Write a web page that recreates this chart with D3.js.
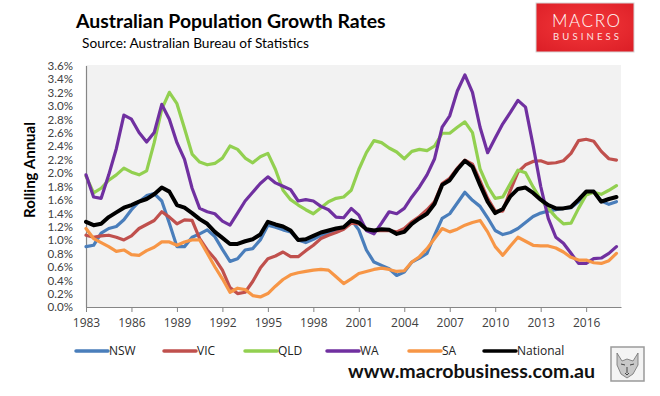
<!DOCTYPE html>
<html>
<head>
<meta charset="utf-8">
<script src="https://cdn.jsdelivr.net/npm/d3@7"></script>
<style>
body{margin:0;background:#fff;}
svg{display:block;font-family:"Open Sans",sans-serif;}
</style>
</head>
<body>
<svg id="chart" width="660" height="396"></svg>
<script>
// half-yearly periods (rolling annual growth, %)
const periods = [1983,1983.5,1984,1984.5,1985,1985.5,1986,1986.5,1987,1987.5,1988,1988.5,1989,1989.5,1990,1990.5,
  1991,1991.5,1992,1992.5,1993,1993.5,1994,1994.5,1995,1995.5,1996,1996.5,1997,1997.5,1998,1998.5,1999,1999.5,
  2000,2000.5,2001,2001.5,2002,2002.5,2003,2003.5,2004,2004.5,2005,2005.5,2006,2006.5,2007,2007.5,2008,2008.5,
  2009,2009.5,2010,2010.5,2011,2011.5,2012,2012.5,2013,2013.5,2014,2014.5,2015,2015.5,2016,2016.5,2017,2017.5,2018];

const nsw = [0.90,0.92,1.10,1.17,1.20,1.30,1.45,1.57,1.66,1.69,1.58,1.25,0.90,0.90,1.04,1.09,
  1.15,1.05,0.86,0.68,0.72,0.85,0.87,1.00,1.22,1.19,1.15,1.12,1.00,0.96,1.01,1.07,1.10,1.13,
  1.18,1.30,1.15,0.85,0.67,0.62,0.57,0.47,0.52,0.67,0.73,0.80,1.07,1.32,1.39,1.55,1.71,1.59,
  1.50,1.33,1.14,1.08,1.11,1.17,1.26,1.35,1.40,1.43,1.45,1.47,1.48,1.57,1.71,1.72,1.58,1.53,1.57];

const vic = [1.07,1.04,1.06,1.07,1.04,1.00,1.06,1.17,1.23,1.29,1.42,1.34,1.24,1.30,1.29,1.02,
  0.85,0.72,0.55,0.29,0.20,0.22,0.38,0.58,0.72,0.76,0.82,0.75,0.75,0.84,0.92,1.02,1.07,1.11,
  1.16,1.25,1.24,1.16,1.14,1.14,1.14,1.12,1.17,1.27,1.35,1.45,1.57,1.84,1.92,2.07,2.19,2.13,
  1.88,1.62,1.43,1.43,1.74,2.01,2.12,2.17,2.18,2.14,2.15,2.18,2.29,2.48,2.50,2.47,2.32,2.21,2.19];

const qld = [1.95,1.70,1.77,1.89,1.97,2.07,2.01,1.97,2.03,2.45,2.95,3.20,3.03,2.66,2.28,2.16,
  2.12,2.14,2.22,2.40,2.35,2.22,2.15,2.24,2.29,2.05,1.74,1.60,1.52,1.45,1.39,1.48,1.57,1.62,
  1.64,1.74,2.05,2.30,2.48,2.45,2.37,2.31,2.21,2.32,2.35,2.33,2.40,2.59,2.59,2.68,2.76,2.60,
  2.06,1.80,1.62,1.64,1.84,2.04,2.00,1.79,1.60,1.47,1.34,1.24,1.25,1.47,1.67,1.71,1.68,1.74,1.81];

const wa = [1.97,1.64,1.62,1.97,2.36,2.86,2.80,2.60,2.46,2.60,3.02,2.80,2.45,2.20,1.77,1.47,
  1.42,1.39,1.28,1.22,1.40,1.58,1.71,1.84,1.94,1.85,1.80,1.75,1.58,1.60,1.58,1.50,1.45,1.34,
  1.33,1.47,1.37,1.14,1.09,1.25,1.42,1.39,1.47,1.64,1.79,1.97,2.21,2.68,2.85,3.22,3.46,3.20,
  2.68,2.30,2.52,2.73,2.90,3.08,2.98,2.41,1.80,1.32,1.04,0.95,0.80,0.65,0.65,0.72,0.73,0.80,0.90];

const sa = [1.17,1.02,0.96,0.90,0.83,0.85,0.78,0.77,0.84,0.89,0.97,0.97,0.92,0.97,1.00,1.00,
  0.80,0.60,0.42,0.22,0.28,0.26,0.17,0.15,0.20,0.31,0.41,0.48,0.51,0.53,0.55,0.56,0.55,0.45,
  0.35,0.42,0.50,0.53,0.56,0.58,0.56,0.53,0.54,0.67,0.75,0.87,1.02,1.17,1.12,1.16,1.22,1.26,
  1.29,1.12,0.90,0.77,0.91,1.04,0.98,0.92,0.91,0.91,0.88,0.82,0.74,0.70,0.70,0.66,0.65,0.69,0.80];

const national = [1.27,1.22,1.24,1.34,1.41,1.48,1.52,1.57,1.61,1.68,1.78,1.72,1.52,1.48,1.40,1.31,
  1.24,1.12,1.03,0.94,0.94,0.98,1.01,1.08,1.27,1.23,1.20,1.14,1.00,1.01,1.06,1.11,1.14,1.17,
  1.19,1.29,1.26,1.16,1.14,1.16,1.15,1.09,1.12,1.24,1.32,1.39,1.54,1.82,1.89,2.05,2.18,2.09,
  1.82,1.57,1.40,1.46,1.65,1.76,1.78,1.70,1.60,1.52,1.47,1.47,1.49,1.60,1.72,1.72,1.57,1.61,1.64];

const seriesNames = ["NSW","VIC","QLD","WA","SA","National"];
const seriesColors = ["#4a7ebb","#c0504d","#92d050","#7030a0","#f79646","#000000"];
const yearTicks = [1983,1986,1989,1992,1995,1998,2001,2004,2007,2010,2013,2016];
const pctTicks = [0,0.2,0.4,0.6,0.8,1.0,1.2,1.4,1.6,1.8,2.0,2.2,2.4,2.6,2.8,3.0,3.2,3.4,3.6];

const series = [nsw, vic, qld, wa, sa, national].map((vals,i)=>({
  name: seriesNames[i], color: seriesColors[i],
  points: periods.map((p,j)=>({t:p, v:vals[j]}))
}));

const svg = d3.select("#chart");

// fit a text element to a given width by scaling its font size
function fit(sel, w){
  const cur = sel.node().getComputedTextLength();
  const fs = parseFloat(sel.attr("font-size"));
  sel.attr("font-size", (fs*w/cur).toFixed(2));
}
// or by spreading its letters
function spread(sel, w){
  const n = sel.node(), cur = n.getComputedTextLength(), k = sel.text().length;
  sel.attr("letter-spacing", ((w-cur)/(k-1)).toFixed(2));
}

// header
fit(svg.append("text").attr("x",76).attr("y",28).attr("font-size",18).attr("font-weight","bold")
  .attr("font-family","Lato, sans-serif").attr("fill","#000").text("Australian Population Growth Rates"), 310);
fit(svg.append("text").attr("x",82).attr("y",48).attr("font-size",13)
  .attr("font-family","Lato, sans-serif").attr("fill","#000").text("Source: Australian Bureau of Statistics"), 227);

// logo
const defs = svg.append("defs");
const grad = defs.append("radialGradient").attr("id","logoGrad").attr("cx","50%").attr("cy","45%").attr("r","70%");
grad.append("stop").attr("offset","0%").attr("stop-color","#f5393b");
grad.append("stop").attr("offset","100%").attr("stop-color","#dc1f27");
svg.append("rect").attr("x",536).attr("y",3).attr("width",98).attr("height",49)
  .attr("fill","url(#logoGrad)").attr("stroke","#d6d6d6").attr("stroke-width",1);
spread(svg.append("text").attr("x",552).attr("y",26.5).attr("font-size",17).attr("fill","#fff")
  .attr("font-family","Lato, sans-serif").attr("font-weight",300).text("MACRO"), 68);
spread(svg.append("text").attr("x",553).attr("y",40).attr("font-size",9.5).attr("fill","#fde3e3")
  .attr("font-family","Lato, sans-serif").text("BUSINESS"), 66);

// plot
const x = d3.scaleLinear().domain([1983, 2018.3]).range([86, 621]);
const y = d3.scaleLinear().domain([0, 3.6]).range([307, 65.5]);

svg.append("rect").attr("x",86).attr("y",65).attr("width",535).attr("height",242).attr("fill","#f2f2f2");

const xAxis = svg.append("g").attr("transform","translate(0,307)")
  .call(d3.axisBottom(x).tickValues(yearTicks).tickSize(5).tickSizeOuter(0).tickPadding(6).tickFormat(d3.format("d")));
const yAxis = svg.append("g").attr("transform","translate(86,0)")
  .call(d3.axisLeft(y).tickValues(pctTicks).tickSize(0).tickPadding(13).tickFormat(d=>d.toFixed(1)+"%"));
[xAxis, yAxis].forEach(a=>{
  a.select(".domain").attr("stroke","#868686").attr("stroke-width",1.2);
  a.selectAll(".tick line").attr("stroke","#868686");
  a.selectAll(".tick text").attr("fill","#404040");
});
xAxis.selectAll(".tick text").attr("font-size",12).attr("font-family","'Open Sans', sans-serif");
yAxis.selectAll(".tick text").attr("font-size",11.6).attr("font-family","Lato, sans-serif").attr("dy","0.34em");

fit(svg.append("text").attr("transform","translate(35,170) rotate(-90)").attr("text-anchor","middle")
  .attr("font-size",15).attr("font-weight","bold").attr("font-family","Lato, sans-serif")
  .text("Rolling Annual"), 96);

const line = d3.line().x(d=>x(d.t)).y(d=>y(d.v));
svg.append("g").selectAll("path").data(series).join("path")
  .attr("d", d=>line(d.points))
  .attr("fill","none").attr("stroke", d=>d.color)
  .attr("stroke-width", d=>d.name==="National" ? 4 : 3.2)
  .attr("stroke-linejoin","round").attr("stroke-linecap","round");

// legend
const legX = [76, 164, 245, 327, 409, 484];
const leg = svg.append("g").selectAll("g").data(series).join("g")
  .attr("transform",(d,i)=>`translate(${legX[i]},351)`);
leg.append("line").attr("x1",0).attr("x2",32).attr("stroke",d=>d.color).attr("stroke-width",3.5).attr("stroke-linecap","round");
leg.append("text").attr("x",33).attr("dy","0.35em").attr("font-size",12).attr("fill","#222").text(d=>d.name);

// footer
fit(svg.append("text").attr("x",348).attr("y",378).attr("font-size",18).attr("font-weight","bold")
  .attr("font-family","Lato, sans-serif").attr("fill","#111").text("www.macrobusiness.com.au"), 247);

// wolf badge
const wolf = svg.append("g").attr("transform","translate(611,347)");
wolf.append("rect").attr("width",33).attr("height",34).attr("fill","#f4f4f4").attr("stroke","#9a9a9a").attr("stroke-width",1.5);
wolf.append("path").attr("d","M6,6 L11,14 L16,12 L22,14 L27,6 L27,18 L22,27 L16,31 L10,27 L6,18 Z")
  .attr("fill","#c8c8c8").attr("stroke","#6e6e6e").attr("stroke-width",0.8);
wolf.append("path").attr("d","M10,17 L14,18 M19,18 L23,17 M14,26 L16,28 L18,26 M16,20 L16,26")
  .attr("fill","none").attr("stroke","#444").attr("stroke-width",1);
</script>
</body>
</html>
